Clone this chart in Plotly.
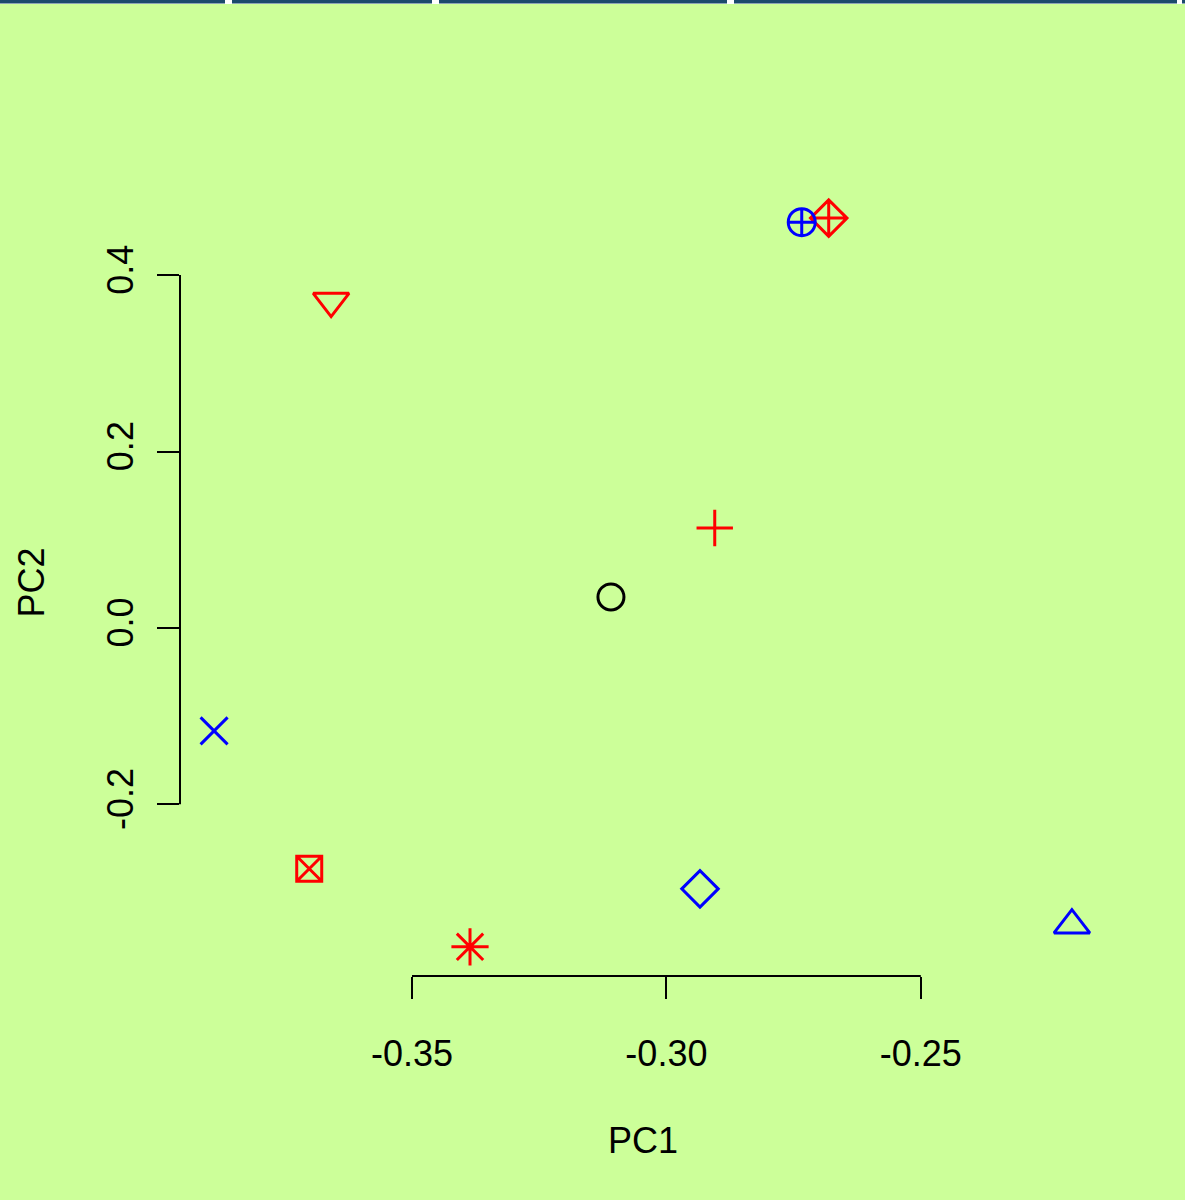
import plotly.graph_objects as go

# ---- data ----
pc1 = [-0.3109, -0.2203, -0.2905, -0.3889, -0.2934, -0.3659, -0.3702, -0.3386, -0.2681, -0.2734]
pc2 = [0.0351, -0.337, 0.1133, -0.1167, -0.2958, 0.3705, -0.273, -0.3615, 0.4646, 0.4600]
x_ticks = [-0.35, -0.30, -0.25]
x_tick_labels = ["-0.35", "-0.30", "-0.25"]
y_ticks = [-0.2, 0.0, 0.2, 0.4]
y_tick_labels = ["-0.2", "0.0", "0.2", "0.4"]

# ---- styles ----
symbols = ["circle-open", "triangle-up-open", "cross-thin-open", "x-thin-open", "diamond-open",
           "triangle-down-open", "square-x-open", "asterisk-open", "diamond-cross-open", "circle-cross-open"]
colors = ["#000000", "#0000FF", "#FF0000", "#0000FF", "#0000FF", "#FF0000", "#FF0000", "#FF0000", "#FF0000", "#0000FF"]
sizes = [26, 31, 26, 27, 28, 31, 25, 31, 28, 27]

W, H = 1185, 1200
L, R, T, B = 180, 79, 189, 224
PW, PH = W - L - R, H - T - B
BG = "#CCFF99"
FONT = "Liberation Sans, Arial, Helvetica, sans-serif"


def px(xp):
    return (xp - L) / PW


def py(yp):
    return (H - B - yp) / PH


fig = go.Figure()
fig.add_trace(go.Scatter(
    x=pc1, y=pc2, mode="markers",
    marker=dict(symbol=symbols, color=colors, size=sizes, opacity=1,
                line=dict(color=colors, width=3)),
    showlegend=False, hoverinfo="x+y",
))

axis_common = dict(showgrid=False, zeroline=False, showline=False, ticks="outside",
                   ticklen=22, tickwidth=2, tickcolor="black",
                   tickfont=dict(family=FONT, size=36, color="black"))

fig.update_xaxes(range=[-0.3956, -0.2136], tickvals=x_ticks, ticktext=x_tick_labels,
                 ticklabelstandoff=24, **axis_common)
fig.update_yaxes(range=[-0.3946, 0.4976], tickvals=y_ticks, ticktext=y_tick_labels,
                 tickangle=-90, ticklabelstandoff=10, **axis_common)

shapes = []
# R-style axis lines spanning first to last tick
shapes.append(dict(type="line", xref="x", yref="paper", x0=x_ticks[0], x1=x_ticks[-1], y0=0, y1=0,
                   line=dict(color="black", width=2)))
shapes.append(dict(type="line", xref="paper", yref="y", x0=0, x1=0, y0=y_ticks[0], y1=y_ticks[-1],
                   line=dict(color="black", width=2)))
# top strip
shapes.append(dict(type="rect", xref="paper", yref="paper", x0=px(0), x1=px(W), y0=py(4), y1=py(0),
                   line=dict(width=0), fillcolor="white", layer="above"))
for a, b in [(0, 225), (232, 432), (439, 727), (734, 1177), (1182, 1185)]:
    shapes.append(dict(type="rect", xref="paper", yref="paper", x0=px(a), x1=px(b), y0=py(3.5), y1=py(0),
                       line=dict(width=0), fillcolor="#1B4A6C", layer="above"))

annotations = [
    dict(text="PC1", xref="paper", yref="paper", x=0.5, y=py(1140), showarrow=False,
         xanchor="center", yanchor="middle", font=dict(family=FONT, size=36, color="black")),
    dict(text="PC2", xref="paper", yref="paper", x=px(31), y=0.5, showarrow=False, textangle=-90,
         xanchor="center", yanchor="middle", font=dict(family=FONT, size=36, color="black")),
]

fig.update_layout(width=W, height=H, margin=dict(l=L, r=R, t=T, b=B),
                  paper_bgcolor=BG, plot_bgcolor=BG, shapes=shapes, annotations=annotations,
                  font=dict(family=FONT, color="black"))

fig.write_html("out.html")
